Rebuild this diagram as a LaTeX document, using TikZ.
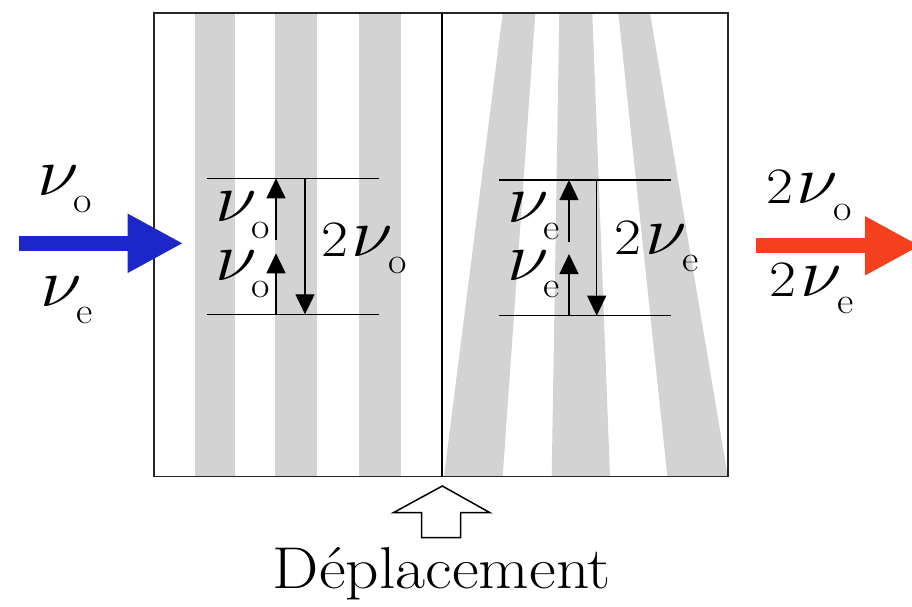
\RequirePackage{fix-cm}
\documentclass[tikz,border=0pt]{standalone}
\usetikzlibrary{arrows.meta}
\definecolor{stripe}{HTML}{D3D3D3}
\definecolor{inblue}{HTML}{1C26C9}
\definecolor{outred}{HTML}{F54020}
\newcommand{\nusym}{\scalebox{1.1}[1]{\fontsize{69}{69}\selectfont$\nu$}}
\newcommand{\nusub}[1]{\nusym\kern-5pt\raisebox{-17pt}{\scalebox{1.08}[1]{\fontsize{37}{37}\selectfont #1}}}
\newcommand{\twonu}[1]{\scalebox{1.15}[1]{\fontsize{51}{51}\selectfont 2}\kern4pt\nusub{#1}}
\tikzset{
  lbl/.style={inner sep=0pt, outer sep=0pt, anchor=base west, font=\fontsize{51}{51}\selectfont},
  lvl/.style={line width=1.3pt},
  lvlarrow/.style={line width=1.3pt, -{Triangle[length=20pt,width=19pt]}},
  stripefill/.style={fill=stripe, draw=none},
}
\begin{document}
\begin{tikzpicture}[x=1pt, y=-1pt]
\useasboundingbox (0,0) rectangle (912,606);
\clip (0,0) rectangle (912,606);
% stripes, left half
\fill[stripefill] (195,13) rectangle (235,476);
\fill[stripefill] (275.3,13) rectangle (316.7,476);
\fill[stripefill] (359.3,13) rectangle (400.7,476);
% stripes, right half
\fill[stripefill] (502.7,13) -- (535.3,13) -- (502.7,476) -- (444,476) -- cycle;
\fill[stripefill] (559.3,13) -- (592.3,13) -- (610,476) -- (551.7,476) -- cycle;
\fill[stripefill] (618.3,13) -- (650,13) -- (727.7,476) -- (667.3,476) -- cycle;
% box
\draw[line width=1.8pt, black!85] (154,13) rectangle (727.7,476.5);
\draw[line width=1.5pt] (442,13) -- (442,476.5);
% left level diagram
\coordinate (LT1) at (206.7,178.3); \coordinate (LT2) at (379.3,178.3);
\coordinate (LB1) at (206.7,314.3); \coordinate (LB2) at (379.3,314.3);
\coordinate (LA1s) at (276,240); \coordinate (LA1e) at (276,178.3);
\coordinate (LA2s) at (276,314.3); \coordinate (LA2e) at (276,253.3);
\coordinate (LDs) at (305,178.3); \coordinate (LDe) at (305,314.3);
\draw[lvl] (LT1) -- (LT2);
\draw[lvl] (LB1) -- (LB2);
\draw[lvlarrow] (LA1s) -- (LA1e);
\draw[lvlarrow] (LA2s) -- (LA2e);
\draw[lvlarrow] (LDs) -- (LDe);
% right level diagram
\coordinate (RT1) at (499.3,180); \coordinate (RT2) at (671,180);
\coordinate (RB1) at (499.3,315.7); \coordinate (RB2) at (671,315.7);
\coordinate (RA1s) at (569,241.7); \coordinate (RA1e) at (569,180);
\coordinate (RA2s) at (569,315.7); \coordinate (RA2e) at (569,254);
\coordinate (RDs) at (596.7,180); \coordinate (RDe) at (596.7,315.7);
\draw[lvl] (RT1) -- (RT2);
\draw[lvl] (RB1) -- (RB2);
\draw[lvlarrow] (RA1s) -- (RA1e);
\draw[lvlarrow] (RA2s) -- (RA2e);
\draw[lvlarrow] (RDs) -- (RDe);
% labels
\node[lbl] (inO) at (37,195) {\nusub{o}};
\node[lbl] (inE) at (40,306.7) {\nusub{e}};
\node[lbl] (lo1) at (215,221.7) {\nusub{o}};
\node[lbl] (lo2) at (215,280) {\nusub{o}};
\node[lbl] (l2o) at (321,256) {\twonu{o}};
\node[lbl] (re1) at (507,222) {\nusub{e}};
\node[lbl] (re2) at (507,280) {\nusub{e}};
\node[lbl] (r2e) at (614.7,254) {\twonu{e}};
\node[lbl] (out2o) at (766,203.3) {\twonu{o}};
\node[lbl] (out2e) at (769.7,296.7) {\twonu{e}};
% input and output arrows
\coordinate (inS) at (19,243.3); \coordinate (inT) at (183.3,243.3);
\draw[inblue, line width=15.3pt, -{Triangle[length=55.6pt,width=55pt]}] (inS) -- (inT);
\coordinate (outS) at (756,245.8); \coordinate (outT) at (920.6,245.8);
\draw[outred, line width=15pt, -{Triangle[length=55.6pt,width=55pt]}] (outS) -- (outT);
% displacement arrow
\draw[line width=1.5pt, fill=white] (442.3,486) -- (490,512.7) -- (460.7,512.7) -- (460.7,537.7)
  -- (421.7,537.7) -- (421.7,512.7) -- (393.3,512.7) -- cycle;
\node[inner sep=0pt, anchor=base, font=\fontsize{59}{59}\selectfont] (dep) at (442,588.3) {\scalebox{1.11}[1]{Déplacement}};
\end{tikzpicture}
\end{document}
